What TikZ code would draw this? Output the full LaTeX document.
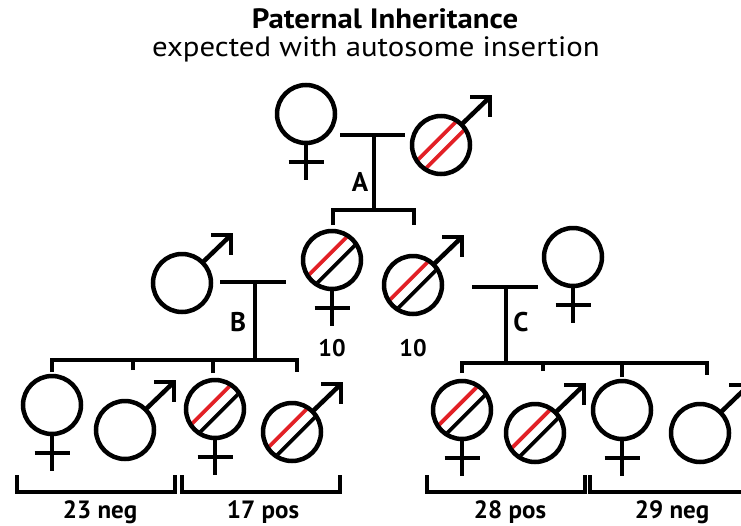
\documentclass[tikz,border=0pt]{standalone}
\usepackage{fontspec}
\setmainfont{PT Sans}
\newfontfamily\headfont{PT Sans}[FakeStretch=1.1]
\usetikzlibrary{calc}
\definecolor{insred}{RGB}{226,32,38}

% male symbol: shaft from the circle at 45 degrees plus an open arrow head
\newcommand{\malemark}[1]{%
  \draw[sym] (#1.45) -- ($(#1.center)+(49,-48)$);
  \draw[sym,line join=miter] ($(#1.center)+(29,-48)$) -- ($(#1.center)+(49,-48)$) -- ($(#1.center)+(49,-28)$);
}
% female symbol: stem and cross bar below the circle
\newcommand{\femalemark}[1]{%
  \draw[sym] (#1.south) -- ($(#1.center)+(0,66)$);
  \draw[sym] ($(#1.center)+(-17.5,48)$) -- ($(#1.center)+(17.5,48)$);
}
% insertion stripes: two parallel diagonal chords (first colour upper left)
\newcommand{\stripes}[3]{%
  \begin{scope}
    \clip (#1) circle (27);
    \draw[line width=3.8pt,#2] ($(#1)+(-4.1-28.3,-4.1+28.3)$) -- ($(#1)+(-4.1+28.3,-4.1-28.3)$);
    \draw[line width=3.8pt,#3] ($(#1)+(4.1-28.3,4.1+28.3)$) -- ($(#1)+(4.1+28.3,4.1-28.3)$);
  \end{scope}
}

\begin{document}
\begin{tikzpicture}[x=1pt,y=-1pt,
  sym/.style={line width=4.5pt},
  person/.style={circle,draw,line width=4.5pt,minimum size=58pt,inner sep=0pt,outer sep=0pt},
  tie/.style={line width=4.5pt},
  letter/.style={font=\fontsize{27}{27}\selectfont\bfseries,anchor=base,inner sep=0pt},
  count/.style={font=\fontsize{24}{24}\selectfont\bfseries,anchor=base,inner sep=0pt},
  tally/.style={font=\fontsize{25}{25}\selectfont\bfseries,anchor=base,inner sep=0pt}]
\useasboundingbox (0,0) rectangle (741,525);
\clip (0,0) rectangle (741,525);

% heading
\node[anchor=base,inner sep=0pt,font=\headfont\fontsize{28}{28}\selectfont\bfseries] (title) at (385,28) {Paternal Inheritance};
\node[anchor=base,inner sep=0pt,font=\headfont\fontsize{28}{28}\selectfont] (subtitle) at (376,56) {expected with autosome insertion};

% stripes under the circles
\stripes{441,145}{insred}{insred}
\stripes{332,260}{insred}{black}
\stripes{413,285}{insred}{black}
\stripes{215,409}{insred}{black}
\stripes{292,432}{insred}{black}
\stripes{462,410}{insred}{black}
\stripes{535,433}{insred}{black}

% generation I
\node[person] (gm) at (306,114) {};
\node[person] (gf) at (441,145) {};
\femalemark{gm}
\malemark{gf}
\coordinate (mA1) at (340,135);
\coordinate (mA2) at (405,135);
\coordinate (mA) at (374,135);
\coordinate (sA) at (374,210);
\draw[tie] (mA1) -- (mA2);
\draw[tie] (mA) -- (sA);
\node[letter] (labA) at (360,191) {A};
\coordinate (sA1) at (333,225);
\coordinate (sA2) at (414,225);
\draw[tie] (sA1) |- (sA) -| (sA2);

% generation II
\node[person] (hB) at (182,283) {};
\malemark{hB}
\node[person] (d10) at (332,260) {};
\femalemark{d10}
\node[person] (s10) at (413,285) {};
\malemark{s10}
\node[person] (wC) at (573,257) {};
\femalemark{wC}
\node[count] (n1) at (332,356) {10};
\node[count] (n2) at (413,356) {10};

\coordinate (mB1) at (220,282);
\coordinate (mB2) at (286,282);
\coordinate (mB) at (255,282);
\coordinate (sB) at (255,360);
\draw[tie] (mB1) -- (mB2);
\draw[tie] (mB) -- (sB);
\node[letter] (labB) at (238,331) {B};

\coordinate (mC1) at (472,287);
\coordinate (mC2) at (538,287);
\coordinate (mC) at (506,287);
\coordinate (sC) at (506,363);
\draw[tie] (mC1) -- (mC2);
\draw[tie] (mC) -- (sC);
\node[letter] (labC) at (521,331) {C};

% sibship B
\coordinate (b1) at (52,372);
\coordinate (b2) at (133,370);
\coordinate (b3) at (213,373);
\coordinate (b4) at (297,372);
\draw[tie] (b1) |- (sB) -| (b4);
\draw[tie] (b2) -- (b2 |- sB);
\draw[tie] (b3) -- (b3 |- sB);

\node[person] (cb1) at (52,405) {};
\femalemark{cb1}
\node[person] (cb2) at (125,430) {};
\malemark{cb2}
\node[person] (cb3) at (215,409) {};
\femalemark{cb3}
\node[person] (cb4) at (292,432) {};
\malemark{cb4}

% sibship C
\coordinate (c1) at (462,373);
\coordinate (c2) at (543,371);
\coordinate (c3) at (622,377);
\coordinate (c4) at (707,375);
\draw[tie] (c1) |- (sC) -| (c4);
\draw[tie] (c2) -- (c2 |- sC);
\draw[tie] (c3) -- (c3 |- sC);

\node[person] (cc1) at (462,410) {};
\femalemark{cc1}
\node[person] (cc2) at (535,433) {};
\malemark{cc2}
\node[person] (cc3) at (622,410) {};
\femalemark{cc3}
\node[person] (cc4) at (700,433) {};
\malemark{cc4}

% group brackets and counts
\coordinate (k1a) at (17,475);  \coordinate (k1b) at (175,475);
\coordinate (k2a) at (182,475); \coordinate (k2b) at (340,475);
\coordinate (k3a) at (427,475); \coordinate (k3b) at (585,475);
\coordinate (k4a) at (590,475); \coordinate (k4b) at (750,492);
\draw[tie,line join=miter] (k1a) |- (100,492) -| (k1b);
\draw[tie,line join=miter] (k2a) |- (263,492) -| (k2b);
\draw[tie,line join=miter] (k3a) |- (510,492) -| (k3b);
\draw[tie,line join=miter] (k4a) |- (k4b);
\node[tally] (t1) at (100,518) {23 neg};
\node[tally] (t2) at (263,518) {17 pos};
\node[tally] (t3) at (510,518) {28 pos};
\node[tally] (t4) at (672,518) {29 neg};
\end{tikzpicture}
\end{document}
